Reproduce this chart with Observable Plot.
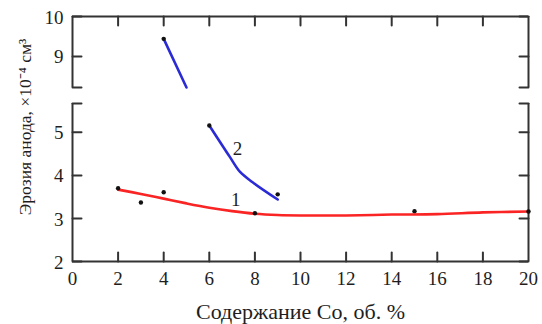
<!DOCTYPE html>
<html><head><meta charset="utf-8">
<script src="https://cdn.jsdelivr.net/npm/d3@7"></script>
<script src="https://cdn.jsdelivr.net/npm/@observablehq/plot@0.6"></script>
<style>body{margin:0;background:#fff;} #chart svg{display:block;}</style>
</head><body><div id="chart"></div>
<script>
// ---- data ----
const xDomain = [0, 20];
const xTicks = [0, 2, 4, 6, 8, 10, 12, 14, 16, 18, 20];
const xInnerTicks = [2, 4, 6, 8, 10, 12, 14, 16, 18];
const yTicks = [2, 3, 4, 5, 9, 10];
const yLowerPanel = [2, 5.67];
const yUpperPanel = [8.22, 10];
const yCaps = [5.67, 8.22];

// series 1 (red): measured points and fitted curve
const s1PointX = [2, 3, 4, 8, 15, 20];
const s1PointY = [3.70, 3.37, 3.61, 3.12, 3.17, 3.16];
const s1CurveX = [2, 3, 4, 5, 6, 7, 8, 9, 10, 12, 14, 16, 18, 20];
const s1CurveY = [3.67, 3.57, 3.46, 3.35, 3.25, 3.17, 3.11, 3.08, 3.07, 3.07, 3.09, 3.10, 3.14, 3.16];

// series 2 (blue): measured points and curve (two pieces across the axis break)
const s2PointX = [4, 6, 9];
const s2PointY = [9.44, 5.16, 3.56];
const s2UpperX = [4, 5];
const s2UpperY = [9.44, 8.22];
const s2LowerX = [6, 6.9, 7.35, 7.9, 9];
const s2LowerY = [5.16, 4.43, 4.08, 3.84, 3.44];

const curveLabels = ["1", "2"];
const curveLabelX = [7.16, 7.24];
const curveLabelY = [3.42, 4.62];

const xLabel = "Содержание Co, об. %";
const yLabel = "Эрозия анода, ×10⁻⁴ см³";

// ---- build ----
const pts = (xs, ys) => xs.map((x, i) => ({x, y: ys[i]}));
const s1Points = pts(s1PointX, s1PointY);
const s1Curve = pts(s1CurveX, s1CurveY);
const s2Points = pts(s2PointX, s2PointY);
const s2Upper = pts(s2UpperX, s2UpperY);
const s2Lower = pts(s2LowerX, s2LowerY);
const labelsData = curveLabels.map((t, i) => ({t, x: curveLabelX[i], y: curveLabelY[i]}));

const tickShape = {draw(context, l) { context.moveTo(0, 0); context.lineTo(0, -l); }};
const axisColor = "#333";
const textColor = "#1e1e1e";
const font = "'Liberation Serif', 'Times New Roman', serif";
const yTickInner = yTicks.concat(yCaps);

const chart = Plot.plot({
  width: 542,
  height: 324,
  marginLeft: 72,
  marginRight: 14,
  marginTop: 16,
  marginBottom: 63,
  style: `font-family: ${font}; font-size: 19px; color: #222; background: #fff;`,
  x: {domain: xDomain, axis: null},
  y: {type: "linear", domain: [yLowerPanel[0], yLowerPanel[1], yUpperPanel[0], yUpperPanel[1]], range: [261, 103, 87, 16], axis: null},
  marks: [
    // frame pieces
    Plot.ruleX([yLowerPanel, yUpperPanel], {x: xDomain[0], y1: d => d[0], y2: d => d[1], stroke: axisColor, strokeWidth: 2}),
    Plot.ruleX([yLowerPanel, yUpperPanel], {x: xDomain[1], y1: d => d[0], y2: d => d[1], stroke: axisColor, strokeWidth: 2}),
    Plot.ruleY([yLowerPanel[0], yUpperPanel[1]], {x1: xDomain[0], x2: xDomain[1], stroke: axisColor, strokeWidth: 2}),
    // inward ticks
    Plot.vector(yTickInner, {x: xDomain[0], y: d => d, length: 9, rotate: 90, anchor: "start", shape: tickShape, stroke: axisColor, strokeWidth: 2}),
    Plot.vector(yTickInner, {x: xDomain[1], y: d => d, length: 9, rotate: -90, anchor: "start", shape: tickShape, stroke: axisColor, strokeWidth: 2}),
    Plot.vector(xInnerTicks, {x: d => d, y: yLowerPanel[0], length: 9, rotate: 0, anchor: "start", shape: tickShape, stroke: axisColor, strokeWidth: 2}),
    Plot.vector(xInnerTicks, {x: d => d, y: yUpperPanel[1], length: 9, rotate: 180, anchor: "start", shape: tickShape, stroke: axisColor, strokeWidth: 2}),
    // tick labels
    Plot.text(xTicks, {x: d => d, y: yLowerPanel[0], text: d => String(d), dy: 17, lineAnchor: "middle", fontSize: 19, fontFamily: font, fill: textColor}),
    Plot.text(yTicks, {x: xDomain[0], y: d => d, text: d => String(d), dx: -9, dy: 1, textAnchor: "end", lineAnchor: "middle", fontSize: 19, fontFamily: font, fill: textColor}),
    // axis titles
    Plot.text([xLabel], {frameAnchor: "bottom", lineAnchor: "bottom", dy: 57, fontSize: 22, fontFamily: font, fill: textColor}),
    Plot.text([yLabel], {frameAnchor: "left", textAnchor: "middle", lineAnchor: "middle", rotate: -90, dx: -47, dy: -12, fontSize: 17.5, fontFamily: font, fill: textColor}),
    // series curves
    Plot.line(s1Curve, {x: "x", y: "y", stroke: "#fb2424", strokeWidth: 2.6, curve: "catmull-rom"}),
    Plot.line(s2Upper, {x: "x", y: "y", stroke: "#2b2bd6", strokeWidth: 2.6}),
    Plot.line(s2Lower, {x: "x", y: "y", stroke: "#2b2bd6", strokeWidth: 2.6, curve: "catmull-rom"}),
    // measured points
    Plot.dot(s1Points, {x: "x", y: "y", r: 2.2, fill: "#111"}),
    Plot.dot(s2Points, {x: "x", y: "y", r: 2.2, fill: "#111"}),
    // curve labels
    Plot.text(labelsData, {x: "x", y: "y", text: "t", fontSize: 19, fontFamily: font, fill: textColor})
  ]
});
document.getElementById("chart").appendChild(chart);
</script>
</body></html>
